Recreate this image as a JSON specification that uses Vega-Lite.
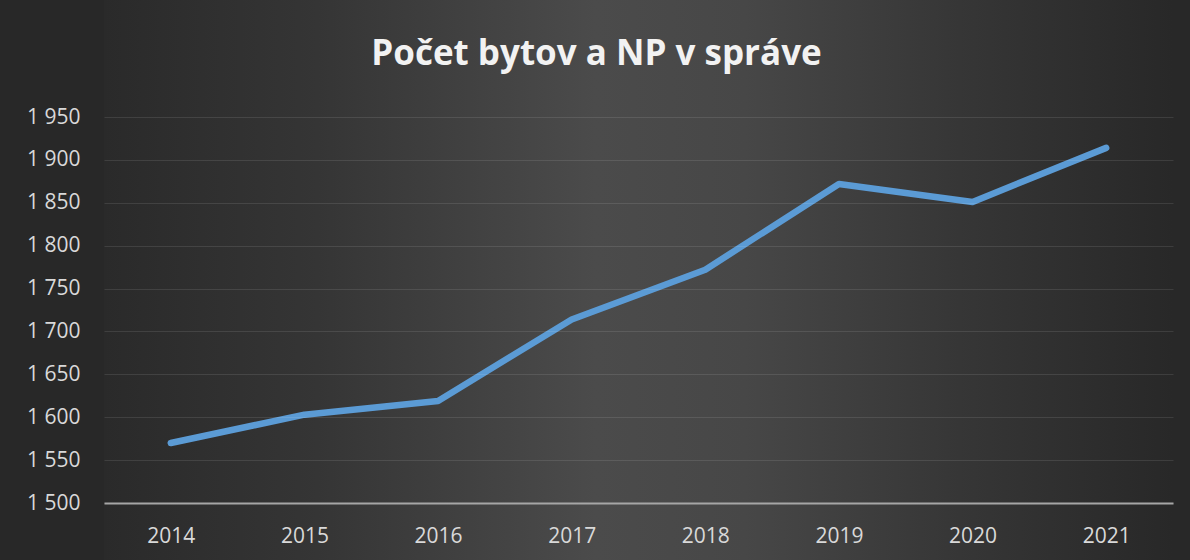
{
  "$schema": "https://vega.github.io/schema/vega-lite/v6.json",
  "width": 1069,
  "height": 386,
  "autosize": {"type": "none"},
  "padding": {"left": 104, "top": 117, "right": 17, "bottom": 57},
  "background": "#282828",
  "title": {
    "text": "Počet bytov a NP v správe",
    "font": "Open Sans",
    "fontSize": 35,
    "fontWeight": "bold",
    "color": "#f2f2f2",
    "anchor": "middle",
    "baseline": "alphabetic",
    "dx": -42,
    "offset": 0,
    "dy": 103
  },
  "config": {
    "view": {"stroke": null},
    "axisY": {
      "domain": false,
      "ticks": false,
      "grid": true,
      "gridColor": "#ffffff",
      "gridOpacity": 0.1,
      "gridWidth": 1,
      "labelFont": "Open Sans",
      "labelFontSize": 21,
      "labelColor": "#d9d9d9",
      "labelPadding": 24,
      "values": [1500, 1550, 1600, 1650, 1700, 1750, 1800, 1850, 1900, 1950],
      "labelExpr": "replace(format(datum.value, ','), ',', ' ')"
    },
    "axisX": {
      "domain": true,
      "domainColor": "#a6a6a6",
      "domainWidth": 2,
      "ticks": false,
      "grid": false,
      "labelFont": "Open Sans",
      "labelFontSize": 21,
      "labelColor": "#d9d9d9",
      "labelPadding": 22,
      "labelAngle": 0
    }
  },
  "layer": [
    {
      "data": {"values": [{"top": 2090, "bottom": 1430}]},
      "mark": {
        "type": "rect",
        "clip": false,
        "fill": {
          "gradient": "linear",
          "x1": 0, "y1": 0, "x2": 1, "y2": 0,
          "stops": [
            {"offset": 0, "color": "#2a2a2a"},
            {"offset": 0.2, "color": "#353535"},
            {"offset": 0.46, "color": "#4b4b4b"},
            {"offset": 0.6, "color": "#474747"},
            {"offset": 0.8, "color": "#363636"},
            {"offset": 1, "color": "#282828"}
          ]
        }
      },
      "encoding": {
        "y": {"field": "top", "type": "quantitative", "scale": {"domain": [1500, 1950]}, "title": null, "axis": {"zindex": 1}},
        "y2": {"field": "bottom"}
      }
    },
    {
      "data": {
        "values": [
          {"rok": "2014", "pocet": 1570},
          {"rok": "2015", "pocet": 1603},
          {"rok": "2016", "pocet": 1619},
          {"rok": "2017", "pocet": 1714},
          {"rok": "2018", "pocet": 1772},
          {"rok": "2019", "pocet": 1872},
          {"rok": "2020", "pocet": 1851},
          {"rok": "2021", "pocet": 1914}
        ]
      },
      "mark": {"type": "line", "color": "#5b9bd5", "strokeWidth": 6.5, "strokeCap": "round", "strokeJoin": "round", "zindex": 2},
      "encoding": {
        "x": {"field": "rok", "type": "ordinal", "title": null, "axis": {"zindex": 1}},
        "y": {"field": "pocet", "type": "quantitative", "scale": {"domain": [1500, 1950]}, "title": null, "axis": {"zindex": 1}}
      }
    }
  ]
}
